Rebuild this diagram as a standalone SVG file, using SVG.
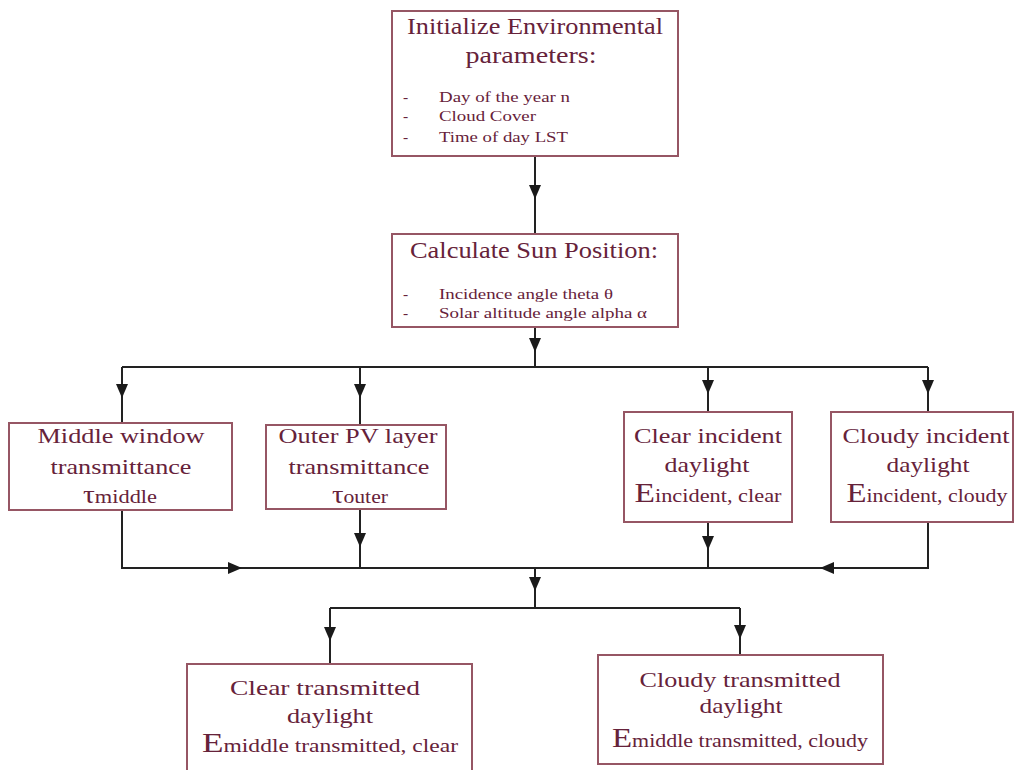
<svg xmlns="http://www.w3.org/2000/svg" width="1015" height="770" viewBox="0 0 1015 770">
<style>
.box{fill:#fff;stroke:#965664;stroke-width:2}
text{font-family:"Liberation Serif","Times New Roman",Times,serif;fill:#66223a}
.t{font-size:22px;text-anchor:middle}
.h{font-size:24px;text-anchor:middle}
.b{font-size:15.5px}
.s{font-size:19px;text-anchor:middle}
.e{font-size:18px;text-anchor:middle}
.big{font-size:27px}
.tau{font-size:25px}
.c{fill:none;stroke:#222;stroke-width:2}
.ca{fill:none;stroke:#222;stroke-width:2;marker-end:url(#ah)}
</style>
<defs>
<marker id="ah" markerUnits="userSpaceOnUse" markerWidth="14" markerHeight="12" refX="14" refY="6" orient="auto">
<path d="M0,0 L14,6 L0,12 z" fill="#1a1a1a"/>
</marker>
</defs>
<rect width="1015" height="770" fill="#fff"/>
<g id="connectors">
<path class="ca" d="M535,156 V199"/><path class="c" d="M535,199 V234"/>
<path class="ca" d="M535,327 V352"/><path class="c" d="M535,352 V367"/>
<path class="c" d="M122,367 H928"/>
<path class="ca" d="M122,367 V398"/><path class="c" d="M122,398 V423"/>
<path class="ca" d="M360,367 V398"/><path class="c" d="M360,398 V425"/>
<path class="ca" d="M708,367 V394"/><path class="c" d="M708,394 V412"/>
<path class="ca" d="M928,367 V394"/><path class="c" d="M928,394 V412"/>
<path class="c" d="M122,510 V568 H240"/><path class="ca" d="M122,568 H242"/>
<path class="c" d="M242,568 H822"/>
<path class="c" d="M928,522 V568 H822"/><path class="ca" d="M928,568 H820"/>
<path class="ca" d="M360,509 V547"/><path class="c" d="M360,547 V568"/>
<path class="ca" d="M708,522 V550"/><path class="c" d="M708,550 V568"/>
<path class="ca" d="M535,568 V591"/><path class="c" d="M535,591 V608"/>
<path class="c" d="M330,608 H740"/>
<path class="ca" d="M330,608 V641"/><path class="c" d="M330,641 V664"/>
<path class="ca" d="M740,608 V639"/><path class="c" d="M740,639 V655"/>
</g>
<g id="init">
<rect class="box" x="392" y="11" width="286" height="145"/>
<text class="h" x="535" y="34" textLength="256" lengthAdjust="spacingAndGlyphs">Initialize Environmental</text>
<text class="h" x="531" y="63" textLength="131" lengthAdjust="spacingAndGlyphs">parameters:</text>
<text class="b" x="403" y="102">-</text><text class="b" x="439" y="102" textLength="131" lengthAdjust="spacingAndGlyphs">Day of the year n</text>
<text class="b" x="403" y="121">-</text><text class="b" x="439" y="121" textLength="97" lengthAdjust="spacingAndGlyphs">Cloud Cover</text>
<text class="b" x="403" y="142">-</text><text class="b" x="439" y="142" textLength="129" lengthAdjust="spacingAndGlyphs">Time of day LST</text>
</g>
<g id="sunpos">
<rect class="box" x="392" y="234" width="286" height="93"/>
<text class="h" x="534" y="258" textLength="248" lengthAdjust="spacingAndGlyphs">Calculate Sun Position:</text>
<text class="b" x="403" y="299">-</text><text class="b" x="439" y="299" textLength="174" lengthAdjust="spacingAndGlyphs">Incidence angle theta θ</text>
<text class="b" x="403" y="318">-</text><text class="b" x="439" y="318" textLength="208" lengthAdjust="spacingAndGlyphs">Solar altitude angle alpha α</text>
</g>
<g id="middle">
<rect class="box" x="9" y="423" width="223" height="87"/>
<text class="t" x="121" y="443" textLength="167" lengthAdjust="spacingAndGlyphs">Middle window</text>
<text class="t" x="121" y="474" textLength="141" lengthAdjust="spacingAndGlyphs">transmittance</text>
<text class="s" x="120" y="503" textLength="74" lengthAdjust="spacingAndGlyphs"><tspan class="tau">τ</tspan>middle</text>
</g>
<g id="outer">
<rect class="box" x="266" y="425" width="180" height="84"/>
<text class="t" x="358" y="443" textLength="159" lengthAdjust="spacingAndGlyphs">Outer PV layer</text>
<text class="t" x="359" y="474" textLength="141" lengthAdjust="spacingAndGlyphs">transmittance</text>
<text class="s" x="360" y="503" textLength="56" lengthAdjust="spacingAndGlyphs"><tspan class="tau">τ</tspan>outer</text>
</g>
<g id="clearinc">
<rect class="box" x="624" y="412" width="168" height="110"/>
<text class="t" x="708" y="443" textLength="148" lengthAdjust="spacingAndGlyphs">Clear incident</text>
<text class="t" x="707" y="472" textLength="85" lengthAdjust="spacingAndGlyphs">daylight</text>
<text class="e" x="708" y="502" textLength="147" lengthAdjust="spacingAndGlyphs"><tspan class="big">E</tspan>incident, clear</text>
</g>
<g id="cloudyinc">
<rect class="box" x="831" y="412" width="182" height="110"/>
<text class="t" x="926" y="443" textLength="167" lengthAdjust="spacingAndGlyphs">Cloudy incident</text>
<text class="t" x="928" y="472" textLength="83" lengthAdjust="spacingAndGlyphs">daylight</text>
<text class="e" x="927" y="502" textLength="161" lengthAdjust="spacingAndGlyphs"><tspan class="big">E</tspan>incident, cloudy</text>
</g>
<g id="cleartrans">
<rect class="box" x="187" y="664" width="285" height="112"/>
<text class="t" x="325" y="695" textLength="190" lengthAdjust="spacingAndGlyphs">Clear transmitted</text>
<text class="t" x="330" y="723" textLength="86" lengthAdjust="spacingAndGlyphs">daylight</text>
<text class="e" x="330" y="752" textLength="256" lengthAdjust="spacingAndGlyphs"><tspan class="big">E</tspan>middle transmitted, clear</text>
</g>
<g id="cloudytrans">
<rect class="box" x="598" y="655" width="285" height="109"/>
<text class="t" x="740" y="687" textLength="201" lengthAdjust="spacingAndGlyphs">Cloudy transmitted</text>
<text class="t" x="741" y="713" textLength="83" lengthAdjust="spacingAndGlyphs">daylight</text>
<text class="e" x="740" y="747" textLength="256" lengthAdjust="spacingAndGlyphs"><tspan class="big">E</tspan>middle transmitted, cloudy</text>
</g>
</svg>
